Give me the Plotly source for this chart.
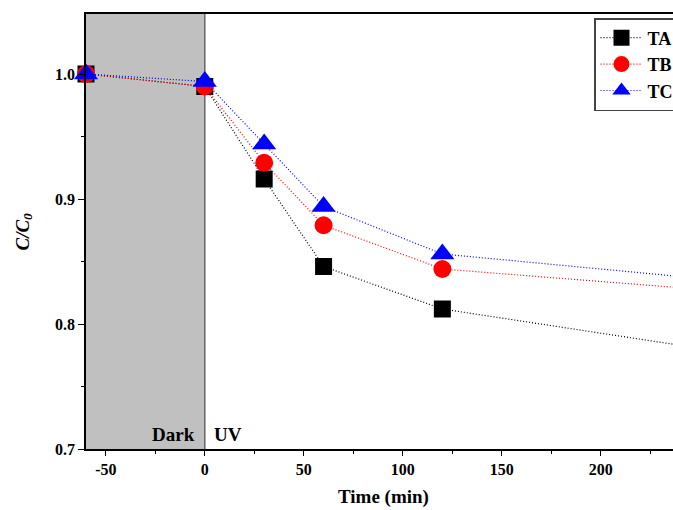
import plotly.graph_objects as go

time = [-60, 0, 30, 60, 120, 240]
ta = [1.000, 0.990, 0.916, 0.846, 0.812, 0.783]
tb = [1.000, 0.990, 0.929, 0.879, 0.844, 0.829]
tc = [1.000, 0.994, 0.944, 0.894, 0.856, 0.838]
names = ["TA", "TB", "TC"]
colors = ["black", "red", "blue"]
symbols = ["square", "circle", "triangle-up"]
sizes = [17, 18, 21]

FONT = "Liberation Serif"

fig = go.Figure()
for vals, name, col, sym, sz in zip([ta, tb, tc], names, colors, symbols, sizes):
    fig.add_trace(go.Scatter(
        x=time, y=vals, name="<b>%s</b>" % name, mode="lines+markers",
        line=dict(color=col, width=1.2, dash="1px,2px"),
        marker=dict(symbol=sym, size=sz, color=col, line=dict(width=0)),
        cliponaxis=False,
    ))

fig.add_shape(type="rect", xref="x", yref="paper", x0=-60, x1=0, y0=0, y1=1,
              fillcolor="#c0c0c0", line=dict(width=0), layer="below")
fig.add_shape(type="line", xref="x", yref="paper", x0=0, x1=0, y0=0, y1=1,
              line=dict(color="#666666", width=1.5), layer="below")

fig.add_annotation(x=-4, y=0.7, xref="x", yref="y", text="<b>Dark</b>", showarrow=False,
                   xanchor="right", yanchor="bottom", yshift=2, font=dict(family=FONT, size=19, color="black"))
fig.add_annotation(x=3.5, y=0.7, xref="x", yref="y", text="<b>UV</b>", showarrow=False,
                   xanchor="left", yanchor="bottom", yshift=2, font=dict(family=FONT, size=19, color="black"))

# axis titles
fig.add_annotation(x=0, y=0.5, xref="paper", yref="paper", text="<b><i>C/C</i><sub><i>0</i></sub></b>",
                   showarrow=False, textangle=-90, xanchor="center", yanchor="middle", xshift=-63,
                   font=dict(family=FONT, size=19, color="black"))
fig.add_annotation(x=0.5, y=0, xref="paper", yref="paper", text="<b>Time (min)</b>",
                   showarrow=False, xanchor="center", yanchor="middle", yshift=-48, xshift=4,
                   font=dict(family=FONT, size=19, color="black"))

fig.update_layout(
    width=673, height=510,
    margin=dict(l=86, r=0, t=14, b=61, autoexpand=False),
    paper_bgcolor="white", plot_bgcolor="white",
    font=dict(family=FONT, color="black"),
    showlegend=True,
    legend=dict(xref="container", yref="container", x=594 / 673, y=1 - 18 / 510,
                xanchor="left", yanchor="top",
                bordercolor="#444444", borderwidth=1.5, bgcolor="white",
                font=dict(family=FONT, size=18, color="black"),
                tracegroupgap=0, itemwidth=42),
    xaxis=dict(range=[-60, 236.5], showgrid=False, zeroline=False,
               showline=True, linecolor="black", linewidth=1.5, mirror=True,
               ticks="outside", ticklen=5, tickwidth=1.2, tickcolor="black",
               tickvals=[-50, 0, 50, 100, 150, 200],
               ticktext=["<b>-50</b>", "<b>0</b>", "<b>50</b>", "<b>100</b>", "<b>150</b>", "<b>200</b>"],
               tickfont=dict(family=FONT, size=16),
               minor=dict(tickvals=[-25, 25, 75, 125, 175, 225], ticks="outside", ticklen=3, tickcolor="black")),
    yaxis=dict(range=[0.7, 1.048], showgrid=False, zeroline=False,
               showline=True, linecolor="black", linewidth=1.5, mirror=False,
               ticks="outside", ticklen=6, tickwidth=1.2, tickcolor="black",
               tickvals=[0.7, 0.8, 0.9, 1.0],
               ticktext=["<b>0.7</b>", "<b>0.8</b>", "<b>0.9</b>", "<b>1.0</b>"],
               tickfont=dict(family=FONT, size=16),
               minor=dict(tickvals=[0.75, 0.85, 0.95], ticks="outside", ticklen=3, tickcolor="black")),
)

fig.write_html("out.html", config={"displayModeBar": False},
               post_script="document.body.style.margin='0';document.body.style.overflow='hidden';")
